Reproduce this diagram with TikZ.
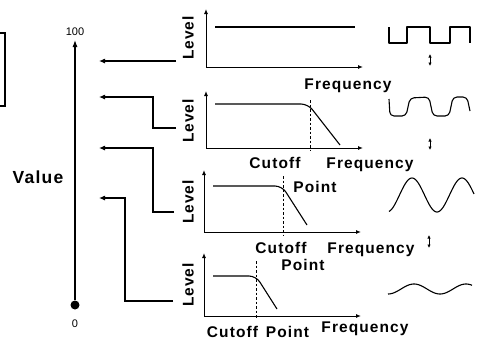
\documentclass[tikz,border=0pt]{standalone}
\usepackage{fontspec}
\setmainfont{Liberation Sans}
\newfontfamily\labfont{Liberation Sans}[LetterSpace=7]
\usetikzlibrary{arrows.meta}
\begin{document}
\begin{tikzpicture}[x=1pt,y=-1pt,
  lbl/.style={font=\labfont\fontsize{15.5}{16}\selectfont\bfseries, inner sep=0pt, anchor=base},
  vlbl/.style={font=\labfont\fontsize{17.5}{18}\selectfont\bfseries, inner sep=0pt, anchor=base},
  lvl/.style={font=\labfont\fontsize{15.5}{16}\selectfont\bfseries, inner sep=0pt, rotate=90},
  num/.style={font=\fontsize{11}{12}\selectfont, inner sep=0pt, anchor=base},
  ln/.style={line width=1.1pt},
  conn/.style={line width=1.1pt, -{Latex[length=6pt,width=5pt]}},
  gaxis/.style={line width=1pt, -{Latex[length=5pt,width=4pt]}},
  vaxis/.style={line width=1.1pt, -{Latex[length=7pt,width=5pt]}},
  cut/.style={line width=0.9pt, dash pattern=on 2.5pt off 2pt},
  dbl/.style={line width=1pt, {Latex[length=3.5pt,width=3.5pt]}-{Latex[length=3.5pt,width=3.5pt]}},
  wave/.style={line width=1.1pt, line join=round}
  ]
\useasboundingbox (0,0) rectangle (477,341);
\clip (0,0) rectangle (477,341);

% partial box at left edge
\node[draw, line width=1.1pt, minimum width=40pt, minimum height=73pt, inner sep=0pt] (box) at (-15,69.5) {};

% value axis
\node[num] (n100) at (75,35) {100};
\node[num] (n0) at (75,327) {0};
\node[circle, fill, inner sep=0pt, minimum size=9pt] (dot) at (75,305) {};
\coordinate (vtop) at (75,40);
\draw[vaxis] (dot) -- (vtop);
\node[vlbl] (value) at (38,183) {Value};

% Level labels
\node[lvl] (lev1) at (188,38) {Level};
\node[lvl] (lev2) at (188,121) {Level};
\node[lvl] (lev3) at (188,202) {Level};
\node[lvl] (lev4) at (188,285) {Level};

% connectors
\coordinate (s1) at (176,61);  \coordinate (e1) at (99,61);
\coordinate (s2) at (176,128); \coordinate (k2) at (153,97);  \coordinate (e2) at (99,97);
\coordinate (s3) at (174,212); \coordinate (k3) at (153,148); \coordinate (e3) at (99,148);
\coordinate (s4) at (173,301); \coordinate (k4) at (125,198); \coordinate (e4) at (99,198);
\draw[conn] (s1) -- (e1);
\draw[conn] (s2) -| (k2) -- (e2);
\draw[conn] (s3) -| (k3) -- (e3);
\draw[conn] (s4) -| (k4) -- (e4);

% graph 1
\coordinate (o1) at (206,67); \coordinate (y1) at (206,9); \coordinate (x1) at (363,67);
\draw[gaxis] (o1) -- (y1); \draw[gaxis] (o1) -- (x1);
\draw[ln] (215,27) -- (355,27);
\node[lbl] (f1) at (348,89) {Frequency};

% graph 2
\coordinate (o2) at (206,148); \coordinate (y2) at (206,91); \coordinate (x2) at (363,148);
\draw[gaxis] (o2) -- (y2); \draw[gaxis] (o2) -- (x2);
\draw[ln, rounded corners=7pt] (215,104) -- (308,104) -- (340,145);
\draw[cut] (310,100) -- (310,151);
\node[lbl] (c2) at (275,168) {Cutoff};
\node[lbl] (p2) at (315,192) {Point};
\node[lbl] (f2) at (370,168) {Frequency};

% graph 3
\coordinate (o3) at (204,232); \coordinate (y3) at (204,170); \coordinate (x3) at (361,232);
\draw[gaxis] (o3) -- (y3); \draw[gaxis] (o3) -- (x3);
\draw[ln, rounded corners=7pt] (213,186) -- (282,186) -- (307,225);
\draw[cut] (283,176) -- (283,235);
\node[lbl] (c3) at (281,253) {Cutoff};
\node[lbl] (p3) at (303,270) {Point};
\node[lbl] (f3) at (371,253) {Frequency};

% graph 4
\coordinate (o4) at (204,316); \coordinate (y4) at (204,253); \coordinate (x4) at (361,316);
\draw[gaxis] (o4) -- (y4); \draw[gaxis] (o4) -- (x4);
\draw[ln, rounded corners=7pt] (213,276) -- (256,276) -- (277,309);
\draw[cut] (256,261) -- (256,319);
\node[lbl] (c4) at (258,337) {Cutoff\hspace{8pt}Point};
\node[lbl] (f4) at (365,332) {Frequency};

% waveforms
\draw[wave] (389,27) -- (389,43) -- (407,43) -- (407,27) -- (430,27) -- (430,43) -- (450,43) -- (450,27) -- (470,27) -- (470,43);
\draw[wave, rounded corners=4pt] (389,99) -- (390,116) -- (406,116) -- (410,98) -- (429,97) -- (433,116) -- (449,116) -- (453,97) -- (467,97) -- (470,111);
\draw[wave] plot[domain=389:474, samples=90, smooth] (\x, {195+17*cos(7.2*(\x-387))});
\draw[wave] plot[domain=388:472, samples=90, smooth] (\x, {289+5*cos(6.923*(\x-388))});

% small double arrows
\coordinate (d1a) at (430,54);  \coordinate (d1b) at (430,66);
\coordinate (d2a) at (430,138); \coordinate (d2b) at (430,150);
\coordinate (d3a) at (429,235); \coordinate (d3b) at (429,248);
\draw[dbl] (d1a) -- (d1b);
\draw[dbl] (d2a) -- (d2b);
\draw[dbl] (d3a) -- (d3b);
\end{tikzpicture}
\end{document}
